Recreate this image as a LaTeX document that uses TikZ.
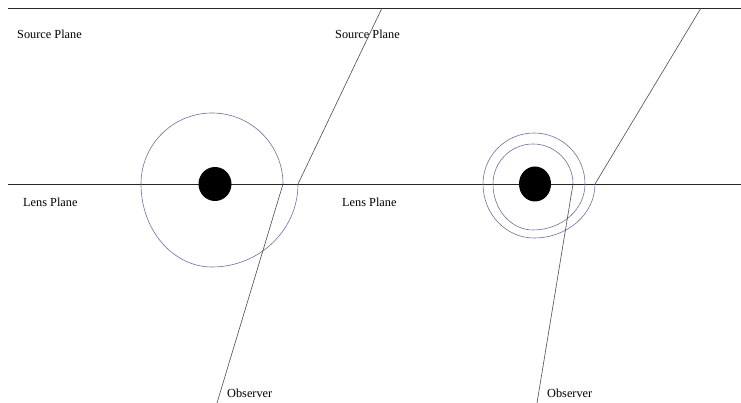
\documentclass[tikz,border=0pt]{standalone}
\usepackage{fontspec}
\setmainfont{Liberation Serif}
\usetikzlibrary{shapes.geometric}
\definecolor{ringc}{RGB}{112,112,160}
\begin{document}
\begin{tikzpicture}[x=1pt,y=1pt,
  plane/.style={draw=black!85,line width=0.8pt},
  ray/.style={draw=black!70,line width=0.6pt},
  ring/.style={draw=ringc,line width=0.6pt},
  lbl/.style={anchor=base west,inner sep=0pt,font=\fontsize{12.3}{14}\selectfont},
  lens/.style={fill=black,draw=none}]
\useasboundingbox (0,0) rectangle (741,403);
\fill[white] (0,0) rectangle (741,403);
% named points
\coordinate (sL) at (8,395);  \coordinate (sR) at (741,395);
\coordinate (lL) at (8,219);  \coordinate (lR) at (741,219);
\coordinate (r1top) at (382,395); \coordinate (r1bend) at (298,219);
\coordinate (r2top) at (701,395); \coordinate (r2bend) at (595,219);
\coordinate (o1top) at (283,219); \coordinate (o1bot) at (217,0);
\coordinate (o2top) at (573,219); \coordinate (o2bot) at (537,0);
% planes
\draw[plane] (sL) -- (sR);
\draw[plane] (lL) -- (lR);
% rays from the source plane
\draw[ray] (r1top) -- (r1bend);
\draw[ray] (r2top) -- (r2bend);
% left ring
\draw[ring] (o1top) arc[start angle=0,end angle=180,radius=71]
  arc[start angle=180,end angle=270,x radius=71,y radius=83]
  arc[start angle=270,end angle=360,x radius=86,y radius=83];
\draw[ray] (o1top) -- (o1bot);
% right rings
\draw[ring] (r2bend) arc[start angle=0,end angle=-90,x radius=61,y radius=54]
  arc[start angle=270,end angle=180,x radius=51,y radius=54]
  arc[start angle=180,end angle=0,radius=51]
  arc[start angle=0,end angle=-90,x radius=52,y radius=46]
  arc[start angle=270,end angle=180,x radius=40,y radius=46]
  arc[start angle=180,end angle=0,radius=40];
\draw[ray] (o2top) -- (o2bot);
% lenses
\node[lens,ellipse,minimum width=33pt,minimum height=34pt,inner sep=0pt] (lens1) at (215,219) {};
\node[lens,ellipse,minimum width=32pt,minimum height=35pt,inner sep=0pt] (lens2) at (535,219) {};
% labels
\node[lbl] (src1) at (17,364) {Source Plane};
\node[lbl] (src2) at (335,364) {Source Plane};
\node[lbl] (lp1) at (23,196) {Lens Plane};
\node[lbl] (lp2) at (342,196) {Lens Plane};
\node[lbl] (obs1) at (227,5) {Observer};
\node[lbl] (obs2) at (547,5) {Observer};
\end{tikzpicture}
\end{document}
